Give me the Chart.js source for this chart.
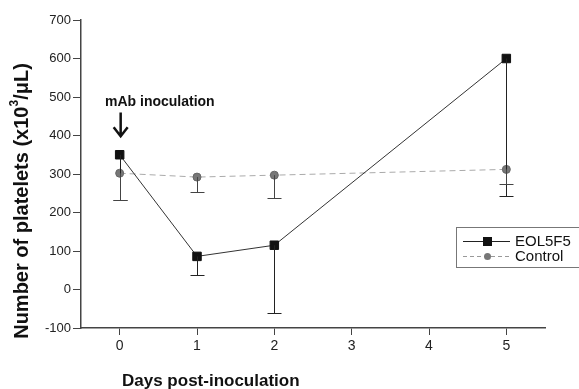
<!DOCTYPE html>
<html>
<head>
<meta charset="utf-8">
<script src="https://cdn.jsdelivr.net/npm/chart.js@4/dist/chart.umd.min.js"></script>
<style>
  html, body { margin: 0; padding: 0; background: #fff; }
  #wrap { width: 579px; height: 389px; }
</style>
</head>
<body>
<div id="wrap"><canvas id="plateletChart" width="579" height="389"></canvas></div>
<script>
const days = [0, 1, 2, 5];
const eolMean = [350, 86, 115, 600];
const eolLower = [232, 37, -62, 243];
const ctrlMean = [302, 292, 297, 312];
const ctrlLower = [232, 252, 238, 274];
const xTicks = [0, 1, 2, 3, 4, 5];
const yTicks = [-100, 0, 100, 200, 300, 400, 500, 600, 700];

const FONT = '"Liberation Sans", Arial, sans-serif';

// lower error bars (only the lower arm is shown in the figure)
const errorBars = {
  id: 'errorBars',
  afterDatasetsDraw(chart) {
    const ctx = chart.ctx;
    const x = chart.scales.x, y = chart.scales.y;
    const sets = [
      { mean: eolMean, low: eolLower, color: '#222' },
      { mean: ctrlMean, low: ctrlLower, color: '#444' }
    ];
    ctx.save();
    ctx.lineWidth = 1;
    sets.forEach(s => {
      ctx.strokeStyle = s.color;
      days.forEach((d, i) => {
        const px = Math.round(x.getPixelForValue(d)) + 0.5;
        const top = y.getPixelForValue(s.mean[i]);
        const bot = Math.round(y.getPixelForValue(s.low[i])) + 0.5;
        ctx.beginPath();
        ctx.moveTo(px, top);
        ctx.lineTo(px, bot);
        ctx.moveTo(px - 7, bot);
        ctx.lineTo(px + 7, bot);
        ctx.stroke();
      });
    });
    ctx.restore();
  }
};

// titles, annotation and legend box
const extras = {
  id: 'extras',
  afterDraw(chart) {
    const ctx = chart.ctx;
    const x = chart.scales.x, y = chart.scales.y;
    ctx.save();
    ctx.fillStyle = '#111';

    // y title
    ctx.textBaseline = 'middle';
    ctx.translate(22, 201);
    ctx.rotate(-Math.PI / 2);
    const pre = 'Number of platelets (x10', sup = '3', post = '/\u03bcL)';
    ctx.font = 'bold 20px ' + FONT;
    const w1 = ctx.measureText(pre).width;
    const w3 = ctx.measureText(post).width;
    ctx.font = 'bold 12px ' + FONT;
    const w2 = ctx.measureText(sup).width;
    let sx = -(w1 + w2 + w3) / 2;
    ctx.textAlign = 'left';
    ctx.font = 'bold 20px ' + FONT;
    ctx.fillText(pre, sx, 0);
    sx += w1;
    ctx.font = 'bold 12px ' + FONT;
    ctx.fillText(sup, sx, -7);
    sx += w2;
    ctx.font = 'bold 20px ' + FONT;
    ctx.fillText(post, sx, 0);
    ctx.setTransform(1, 0, 0, 1, 0, 0);

    // x title
    ctx.font = 'bold 17px ' + FONT;
    ctx.textAlign = 'left';
    ctx.fillText('Days post-inoculation', 122, 381);

    // annotation
    ctx.font = 'bold 14px ' + FONT;
    ctx.fillText('mAb inoculation', 105, 102);
    const ax = x.getPixelForValue(0) + 1;
    const ay1 = y.getPixelForValue(460), ay2 = y.getPixelForValue(398);
    ctx.strokeStyle = '#111';
    ctx.lineWidth = 2.5;
    ctx.beginPath();
    ctx.moveTo(ax, ay1);
    ctx.lineTo(ax, ay2 - 2);
    ctx.moveTo(ax - 7, ay2 - 9);
    ctx.lineTo(ax, ay2);
    ctx.lineTo(ax + 7, ay2 - 9);
    ctx.stroke();

    // legend
    ctx.lineWidth = 1;
    ctx.strokeStyle = '#777';
    ctx.strokeRect(456.5, 227.5, 126, 40);
    ctx.strokeStyle = '#222';
    ctx.beginPath();
    ctx.moveTo(463, 241.5);
    ctx.lineTo(510, 241.5);
    ctx.stroke();
    ctx.fillStyle = '#111';
    ctx.fillRect(483, 237, 9, 9);
    ctx.strokeStyle = '#999';
    ctx.setLineDash([4, 3]);
    ctx.beginPath();
    ctx.moveTo(463, 256.5);
    ctx.lineTo(510, 256.5);
    ctx.stroke();
    ctx.setLineDash([]);
    ctx.fillStyle = '#777';
    ctx.beginPath();
    ctx.arc(487.5, 256.5, 3.5, 0, Math.PI * 2);
    ctx.fill();
    ctx.fillStyle = '#111';
    ctx.font = '15px ' + FONT;
    ctx.textBaseline = 'middle';
    ctx.fillText('EOL5F5', 515, 242);
    ctx.fillText('Control', 515, 257);
    ctx.restore();
  }
};

const ctx = document.getElementById('plateletChart').getContext('2d');
new Chart(ctx, {
  type: 'line',
  data: {
    datasets: [
      {
        label: 'EOL5F5',
        data: days.map((d, i) => ({ x: d, y: eolMean[i] })),
        borderColor: '#333',
        borderWidth: 1,
        pointStyle: 'rect',
        pointRadius: 6,
        pointBackgroundColor: '#111',
        pointBorderColor: '#111',
        tension: 0
      },
      {
        label: 'Control',
        data: days.map((d, i) => ({ x: d, y: ctrlMean[i] })),
        borderColor: '#aaa',
        borderWidth: 1,
        borderDash: [6, 4],
        pointStyle: 'circle',
        pointRadius: 4,
        pointBackgroundColor: '#777',
        pointBorderColor: '#666',
        tension: 0
      }
    ]
  },
  options: {
    responsive: false,
    animation: false,
    layout: { padding: { top: 20, right: 34, left: 0, bottom: 0 } },
    plugins: {
      legend: { display: false },
      tooltip: { enabled: false }
    },
    scales: {
      x: {
        type: 'linear',
        min: -0.5,
        max: 5.5,
        afterBuildTicks: scale => { scale.ticks = xTicks.map(v => ({ value: v })); },
        afterFit: scale => { scale.height = 61; },
        grid: { drawOnChartArea: false, drawTicks: true, tickLength: 7, color: '#444' },
        border: { color: '#444', width: 1.5 },
        ticks: { color: '#222', font: { family: FONT, size: 14 }, padding: 3 }
      },
      y: {
        min: -100,
        max: 700,
        afterBuildTicks: scale => { scale.ticks = yTicks.map(v => ({ value: v })); },
        afterFit: scale => { scale.width = 81; },
        grid: { drawOnChartArea: false, drawTicks: true, tickLength: 8, color: '#444' },
        border: { color: '#444', width: 1.5 },
        ticks: { color: '#222', font: { family: FONT, size: 13 }, padding: 2 }
      }
    }
  },
  plugins: [errorBars, extras]
});
</script>
</body>
</html>
